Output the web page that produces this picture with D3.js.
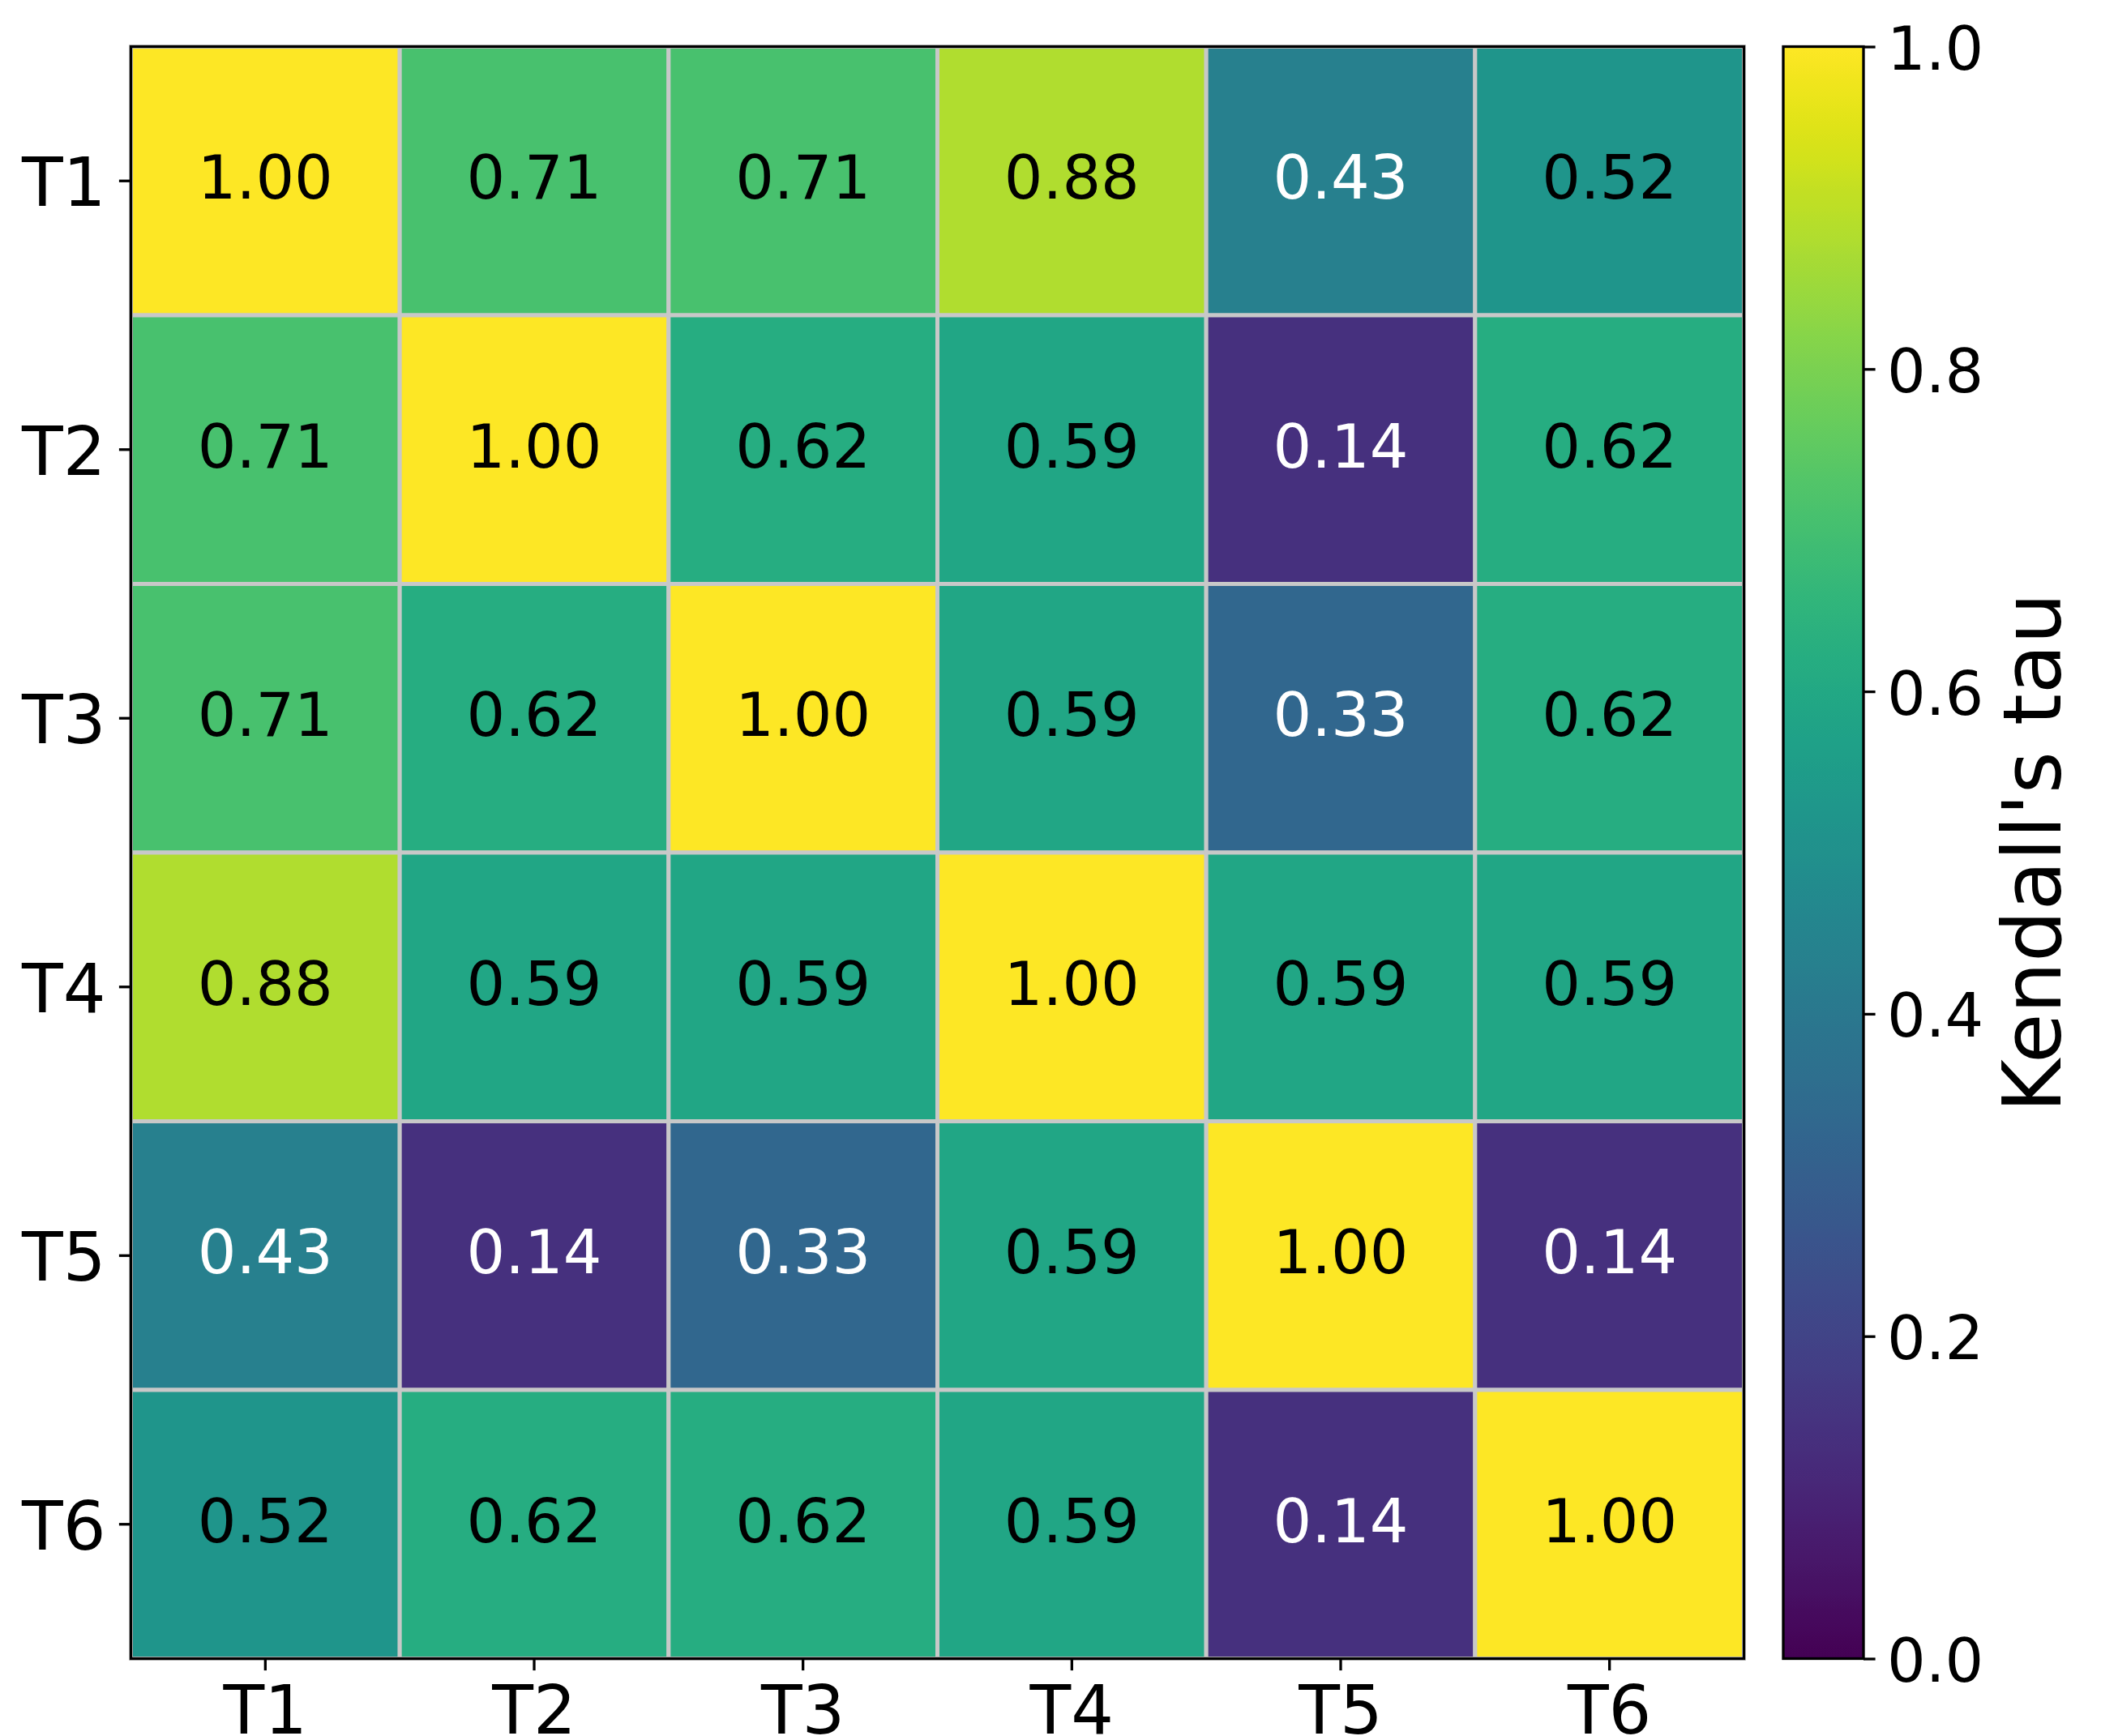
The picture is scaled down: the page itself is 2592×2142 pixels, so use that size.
<!DOCTYPE html>
<html>
<head>
<meta charset="utf-8">
<script src="https://cdn.jsdelivr.net/npm/d3@7"></script>
<style>
  html, body { margin: 0; padding: 0; background: #fff; }
  svg { display: block; font-family: "DejaVu Sans", sans-serif; }
</style>
</head>
<body>
<svg id="chart" width="2592" height="2142"></svg>
<script>
const rowLabels = ["T1", "T2", "T3", "T4", "T5", "T6"];
const colLabels = ["T1", "T2", "T3", "T4", "T5", "T6"];
const tauRows = [
  [1.00, 0.71, 0.71, 0.88, 0.43, 0.52],
  [0.71, 1.00, 0.62, 0.59, 0.14, 0.62],
  [0.71, 0.62, 1.00, 0.59, 0.33, 0.62],
  [0.88, 0.59, 0.59, 1.00, 0.59, 0.59],
  [0.43, 0.14, 0.33, 0.59, 1.00, 0.14],
  [0.52, 0.62, 0.62, 0.59, 0.14, 1.00]
];
const colorbarTicks = [0.0, 0.2, 0.4, 0.6, 0.8, 1.0];
const colorbarLabel = "Kendall's tau";

const svg = d3.select("#chart");
const L = 161.5, R = 2151.5, T = 57.5, B = 2046.5;
const x = d3.scaleBand().domain(colLabels).range([L, R]);
const y = d3.scaleBand().domain(rowLabels).range([T, B]);
const color = d3.scaleSequential(d3.interpolateViridis).domain([0, 1]);

const cells = [];
tauRows.forEach((row, i) => row.forEach((v, j) => cells.push({r: rowLabels[i], c: colLabels[j], v})));

const g = svg.append("g");
g.selectAll("rect.cell").data(cells).join("rect")
  .attr("class", "cell")
  .attr("x", d => x(d.c)).attr("y", d => y(d.r))
  .attr("width", x.bandwidth()).attr("height", y.bandwidth())
  .attr("fill", d => color(d.v))
  .attr("stroke", "#c8c8c8").attr("stroke-width", 5);

g.selectAll("text.val").data(cells).join("text")
  .attr("class", "val")
  .attr("x", d => x(d.c) + x.bandwidth() / 2)
  .attr("y", d => y(d.r) + y.bandwidth() / 2 + 22)
  .attr("text-anchor", "middle")
  .attr("font-size", 75)
  .attr("fill", d => d.v < 0.5 ? "#ffffff" : "#000000")
  .text(d => d.v.toFixed(2));

// spines
svg.append("rect").attr("x", L).attr("y", T).attr("width", R - L).attr("height", B - T)
  .attr("fill", "none").attr("stroke", "#000").attr("stroke-width", 3.3);

// y axis
const yAxis = svg.append("g").attr("transform", `translate(${L},0)`)
  .call(d3.axisLeft(y).tickSize(14.6).tickPadding(14.6));
yAxis.select(".domain").remove();
yAxis.selectAll(".tick line").attr("stroke", "#000").attr("stroke-width", 3.3);
yAxis.selectAll(".tick text").attr("font-size", 83).attr("font-family", "DejaVu Sans")
  .attr("fill", "#000").attr("dy", null).attr("y", 31).attr("x", -31);

// x axis
const xAxis = svg.append("g").attr("transform", `translate(0,${B})`)
  .call(d3.axisBottom(x).tickSize(14.6).tickPadding(14.6));
xAxis.select(".domain").remove();
xAxis.selectAll(".tick line").attr("stroke", "#000").attr("stroke-width", 3.3);
xAxis.selectAll(".tick text").attr("font-size", 83).attr("font-family", "DejaVu Sans")
  .attr("fill", "#000").attr("dy", null).attr("y", 92);

// colorbar
const CL = 2200, CR = 2299;
const cb = d3.scaleLinear().domain([0, 1]).range([B, T]);
const defs = svg.append("defs");
const grad = defs.append("linearGradient").attr("id", "viridisGrad")
  .attr("x1", 0).attr("y1", 1).attr("x2", 0).attr("y2", 0);
d3.range(0, 1.0001, 0.01).forEach(t => {
  grad.append("stop").attr("offset", t).attr("stop-color", color(t));
});
svg.append("rect").attr("x", CL).attr("y", cb(1)).attr("width", CR - CL).attr("height", cb(0) - cb(1))
  .attr("fill", "url(#viridisGrad)").attr("stroke", "#000").attr("stroke-width", 3.3);

const cAxis = svg.append("g").attr("transform", `translate(${CR},0)`)
  .call(d3.axisRight(cb).tickValues(colorbarTicks).tickFormat(d3.format(".1f")).tickSize(14.6).tickPadding(14.6));
cAxis.select(".domain").remove();
cAxis.selectAll(".tick line").attr("stroke", "#000").attr("stroke-width", 3.3);
cAxis.selectAll(".tick text").attr("font-size", 75).attr("font-family", "DejaVu Sans")
  .attr("fill", "#000").attr("dy", null).attr("y", 28).attr("x", 29);

svg.append("text")
  .attr("transform", `translate(2542,${(T + B) / 2}) rotate(-90)`)
  .attr("text-anchor", "middle")
  .attr("font-size", 100)
  .attr("fill", "#000")
  .text(colorbarLabel);
</script>
</body>
</html>
